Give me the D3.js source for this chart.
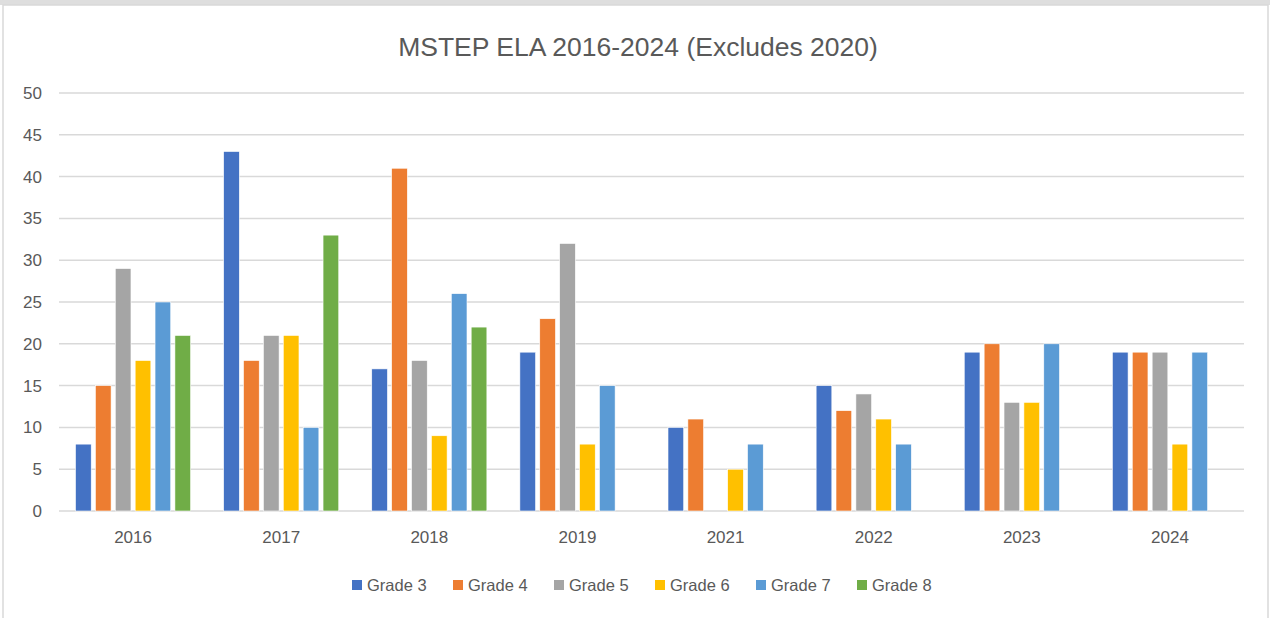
<!DOCTYPE html>
<html>
<head>
<meta charset="utf-8">
<script src="https://cdn.jsdelivr.net/npm/d3@7"></script>
<style>
  body { margin: 0; background: #fff; }
  text { font-family: "Liberation Sans", "DejaVu Sans", sans-serif; fill: #595959; }
</style>
</head>
<body>
<div id="chart"></div>
<script>
// data
var years = ["2016", "2017", "2018", "2019", "2021", "2022", "2023", "2024"];
var grades = ["Grade 3", "Grade 4", "Grade 5", "Grade 6", "Grade 7", "Grade 8"];
var grade3 = [8, 43, 17, 19, 10, 15, 19, 19];
var grade4 = [15, 18, 41, 23, 11, 12, 20, 19];
var grade5 = [29, 21, 18, 32, null, 14, 13, 19];
var grade6 = [18, 21, 9, 8, 5, 11, 13, 8];
var grade7 = [25, 10, 26, 15, 8, 8, 20, 19];
var grade8 = [21, 33, 22, null, null, null, null, null];
var yTicks = [0, 5, 10, 15, 20, 25, 30, 35, 40, 45, 50];
var colors = ["#4472C4", "#ED7D31", "#A5A5A5", "#FFC000", "#5B9BD5", "#70AD47"];

var series = [grade3, grade4, grade5, grade6, grade7, grade8];

var svgWidth = 1270, svgHeight = 618;
var margin = { top: 93, right: 26, bottom: 107, left: 59 };
var width = svgWidth - margin.left - margin.right;
var height = svgHeight - margin.top - margin.bottom;

var svg = d3.select("#chart").append("svg")
  .attr("width", svgWidth)
  .attr("height", svgHeight);

// chart frame
svg.append("rect").attr("x", 0).attr("y", 0).attr("width", svgWidth).attr("height", 5).attr("fill", "#dedede");
svg.append("rect")
  .attr("x", 3).attr("y", 5).attr("width", 1265).attr("height", 640)
  .attr("fill", "#fff").attr("stroke", "#d9d9d9").attr("stroke-width", 1.5);

svg.append("text")
  .attr("x", 638).attr("y", 56)
  .attr("text-anchor", "middle")
  .attr("font-size", "26.5px")
  .text("MSTEP ELA 2016-2024 (Excludes 2020)");

var chartGroup = svg.append("g")
  .attr("transform", `translate(${margin.left}, ${margin.top})`);

var x0 = d3.scaleBand().domain(years).range([0, width]);
var x1 = d3.scaleBand().domain(grades)
  .range([16.5, x0.bandwidth() - 16.5])
  .paddingInner(0.21);
var y = d3.scaleLinear().domain([0, 50]).range([height, 0]);

// gridlines
chartGroup.append("g")
  .selectAll("line")
  .data(yTicks)
  .enter()
  .append("line")
  .attr("x1", 0).attr("x2", width)
  .attr("y1", d => y(d)).attr("y2", d => y(d))
  .attr("stroke", "#d9d9d9")
  .attr("stroke-width", 1.5);

// y labels
var leftAxis = d3.axisLeft(y).tickValues(yTicks).tickSize(0).tickPadding(17);
var yAxis = chartGroup.append("g").call(leftAxis);
yAxis.select(".domain").remove();
yAxis.selectAll("text").attr("font-size", "17px").attr("fill", "#595959")
  .style("font-family", "Liberation Sans, sans-serif");

// x labels
var bottomAxis = d3.axisBottom(x0).tickSize(0).tickPadding(20);
var xAxis = chartGroup.append("g")
  .attr("transform", `translate(0, ${height})`)
  .call(bottomAxis);
xAxis.select(".domain").remove();
xAxis.selectAll("text").attr("font-size", "17px").attr("fill", "#595959")
  .style("font-family", "Liberation Sans, sans-serif");

// bars
var groups = chartGroup.selectAll(".year")
  .data(years)
  .enter()
  .append("g")
  .attr("transform", d => `translate(${x0(d)}, 0)`);

groups.selectAll("rect")
  .data((d, i) => grades.map((g, j) => ({ grade: g, value: series[j][i], color: colors[j] })))
  .enter()
  .append("rect")
  .filter(d => d.value != null)
  .attr("x", d => x1(d.grade))
  .attr("y", d => y(d.value))
  .attr("width", x1.bandwidth())
  .attr("height", d => height - y(d.value))
  .attr("fill", d => d.color)
  .attr("stroke", "#fff")
  .attr("stroke-width", 0.6);

// legend
var legend = svg.append("g")
  .selectAll("g")
  .data(grades)
  .enter()
  .append("g")
  .attr("transform", (d, i) => `translate(${352 + i * 101}, 585)`);

legend.append("rect")
  .attr("x", 0).attr("y", -5)
  .attr("width", 10).attr("height", 10)
  .attr("fill", (d, i) => colors[i]);

legend.append("text")
  .attr("x", 15).attr("y", 6)
  .attr("font-size", "16.5px")
  .text(d => d);
</script>
</body>
</html>
